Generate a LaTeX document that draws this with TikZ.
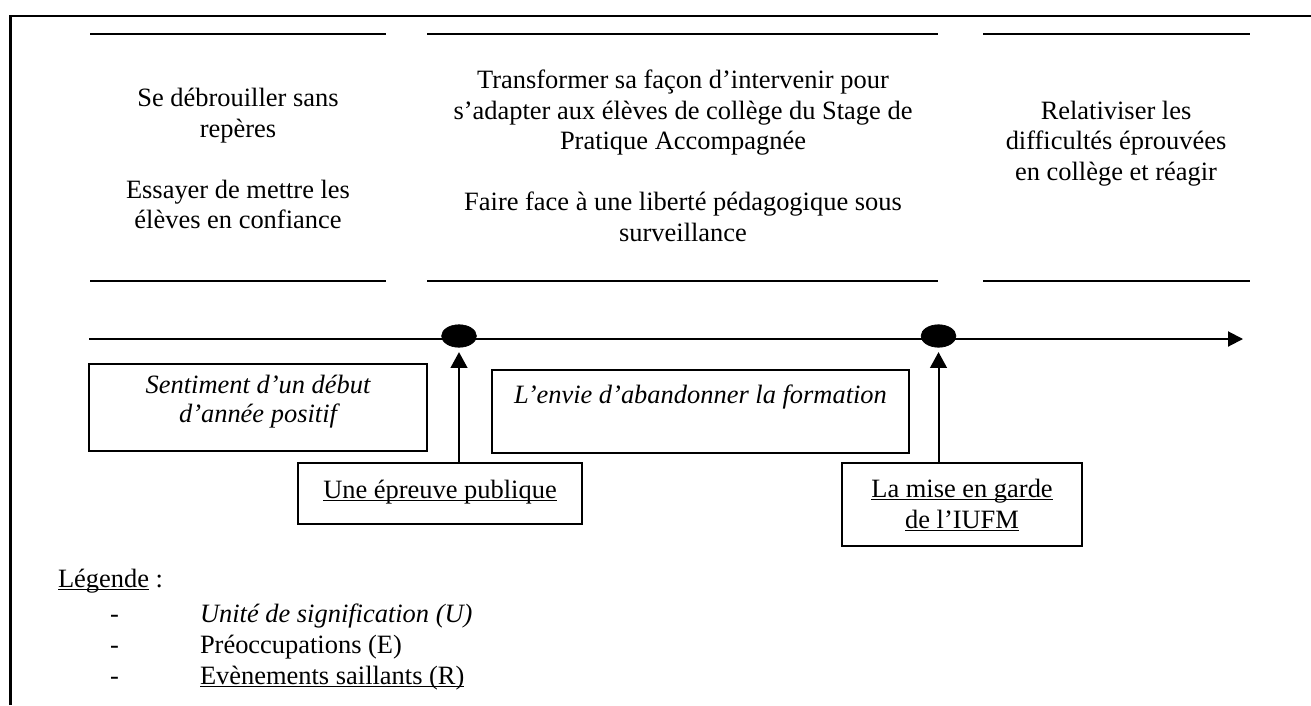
\documentclass[tikz,border=0pt]{standalone}
\usepackage{fontspec}
\setmainfont{Liberation Serif}
\usetikzlibrary{arrows.meta,shapes.geometric}
\newcommand\wul[1]{\setbox0\hbox{#1}\rlap{\rule[-1.3pt]{\wd0}{0.6pt}}\box0\relax}
\begin{document}
\begin{tikzpicture}[x=0.4538pt,y=-0.4538pt,
  every node/.style={font=\fontsize{12pt}{13.8pt}\selectfont, inner sep=0pt, outer sep=0pt},
  txt/.style={anchor=base},
  ubox/.style={draw, line width=0.9pt, anchor=north west, inner sep=0pt},
  colrule/.style={line width=1pt},
  frameline/.style={line width=1.1pt},
  dot/.style={ellipse, fill=black, draw=black, line width=0.3pt, minimum width=15.8pt, minimum height=10.2pt},
  tline/.style={line width=0.9pt, -{Triangle[length=6.8pt,width=6.8pt]}},
  conn/.style={line width=0.9pt, -{Triangle[length=7.2pt,width=7.6pt]}, shorten >=2.2pt}]
\useasboundingbox (0,0) rectangle (1311,705);

% frame
\draw[frameline] (10.5,705) -- (10.5,16) -- (1311,16);

% column rules
\draw[colrule] (90,34) -- (386,34);
\draw[colrule] (90,281) -- (386,281);
\draw[colrule] (427,34) -- (938,34);
\draw[colrule] (427,281) -- (938,281);
\draw[colrule] (983,34) -- (1250,34);
\draw[colrule] (983,281) -- (1250,281);

% column 1
\node[txt] (c1a) at (238,107) {Se débrouiller sans};
\node[txt] (c1b) at (238,137.5) {repères};
\node[txt] (c1c) at (238,198) {Essayer de mettre les};
\node[txt] (c1d) at (238,228.5) {élèves en confiance};

% column 2
\node[txt] (c2a) at (683,89) {Transformer sa façon d’intervenir pour};
\node[txt] (c2b) at (683,119.4) {s’adapter aux élèves de collège du Stage de};
\node[txt] (c2c) at (683,149.8) {Pratique Accompagnée};
\node[txt] (c2d) at (683,210.6) {Faire face à une liberté pédagogique sous};
\node[txt] (c2e) at (683,241) {surveillance};

% column 3
\node[txt] (c3a) at (1116,119) {Relativiser les};
\node[txt] (c3b) at (1116,149.5) {difficultés éprouvées};
\node[txt] (c3c) at (1116,180) {en collège et réagir};

% timeline
\coordinate (t0) at (89,339);
\coordinate (t1) at (1243,339);
\draw[tline] (t0) -- (t1);
\node[dot] (d1) at (459,336) {};
\node[dot] (d2) at (938.5,336) {};

% boxes (units of meaning)
\node[ubox, minimum width=153.4pt, minimum height=39.5pt] (sent) at (89,364) {};
\node[txt, font=\fontsize{12pt}{13.8pt}\selectfont\itshape] (senta) at (258,393) {Sentiment d’un début};
\node[txt, font=\fontsize{12pt}{13.8pt}\selectfont\itshape] (sentb) at (258,422) {d’année positif};

\node[ubox, minimum width=189.2pt, minimum height=37.7pt] (envie) at (492,370) {};
\node[txt, font=\fontsize{12pt}{13.8pt}\selectfont\itshape] (enviea) at (700.5,403) {L’envie d’abandonner la formation};

% events
\node[ubox, minimum width=128.9pt, minimum height=27.7pt] (epr) at (298,463) {};
\node[txt] (epra) at (440,498.5) {\wul{Une épreuve publique}};

\node[ubox, minimum width=108.9pt, minimum height=37.7pt] (mise) at (842,463) {};
\node[txt] (misea) at (962,497.5) {\wul{La mise en garde}};
\node[txt] (miseb) at (962,528) {\wul{de l’IUFM}};

\draw[conn] (d1 |- epr.north) -- (d1.south);
\draw[conn] (d2 |- mise.north) -- (d2.south);

% legend
\node[anchor=base west] (leg) at (58,587) {\wul{Légende} :};
\node[anchor=base west] (dash1) at (110,622) {-};
\node[anchor=base west] (dash2) at (110,653) {-};
\node[anchor=base west] (dash3) at (110,684) {-};
\node[anchor=base west, font=\fontsize{12pt}{13.8pt}\selectfont\itshape] (leg1) at (200,622) {Unité de signification (U)};
\node[anchor=base west] (leg2) at (200,653) {Préoccupations (E)};
\node[anchor=base west] (leg3) at (200,684) {\wul{Evènements saillants (R)}};
\end{tikzpicture}
\end{document}
